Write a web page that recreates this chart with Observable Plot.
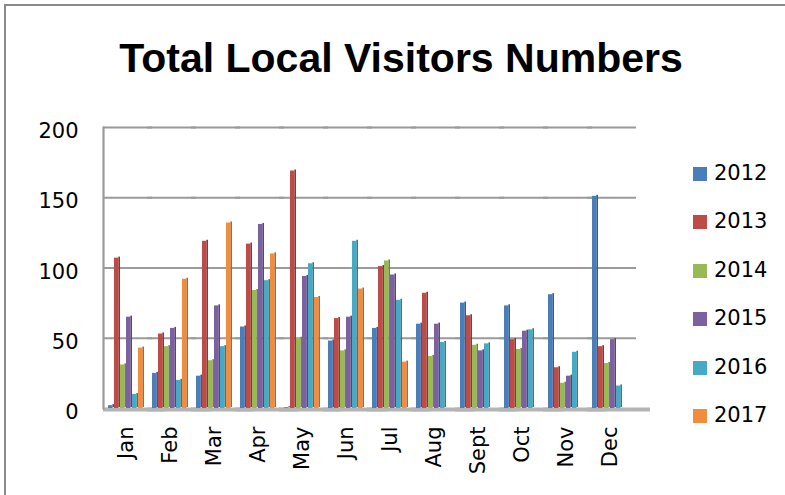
<!DOCTYPE html>
<html><head><meta charset="utf-8">
<script src="https://cdn.jsdelivr.net/npm/d3@7"></script>
<script src="https://cdn.jsdelivr.net/npm/@observablehq/plot@0.6"></script>
<style>
body{margin:0;background:#fff;}
#wrap{position:relative;width:785px;height:495px;overflow:hidden;background:#fff;}
#border{position:absolute;left:4px;top:4px;width:800px;height:520px;border-left:2px solid #8a8a8a;border-top:2px solid #8a8a8a;}
#title{position:absolute;left:0;top:38px;width:802px;text-align:center;font:bold 41px/41px "Liberation Sans",sans-serif;color:#000;white-space:nowrap;}
#chart{position:absolute;left:0;top:0;}
.lg{position:absolute;left:693px;height:21px;font:21px/21px "DejaVu Sans",sans-serif;color:#000;white-space:nowrap;}
.lg span.sw{position:absolute;left:0;top:4px;width:14px;height:14px;}
.lg span.tx{position:absolute;left:21px;top:0;}
</style></head>
<body>
<div id="wrap">
  <div id="chart"></div>
  <div id="border"></div>
  <div id="title">Total Local Visitors Numbers</div>
  <div id="legend"></div>
</div>
<script>
const months = ["Jan","Feb","Mar","Apr","May","Jun","Jul","Aug","Sept","Oct","Nov","Dec"];
const years = ["2012","2013","2014","2015","2016","2017"];
const v2012 = [2, 25, 23, 58, 0.5, 48, 57, 60, 75, 73, 81, 151];
const v2013 = [107, 53, 119, 117, 169, 64, 101, 82, 66, 49, 29, 44];
const v2014 = [31, 44, 34, 84, 50, 41, 105, 37, 45, 42, 18, 32];
const v2015 = [65, 57, 73, 131, 94, 65, 95, 60, 41, 55, 23, 49];
const v2016 = [10, 20, 44, 91, 103, 119, 77, 47, 46, 56, 40, 16];
const v2017 = [43, 92, 132, 110, 79, 85, 33, 0, 0, 0, 0, 0];
const yTicks = [0, 50, 100, 150, 200];
const colors = ["#4A7EBB", "#BE4B48", "#98B954", "#7D60A0", "#46AAC5", "#F38D3E"];

const series = [v2012, v2013, v2014, v2015, v2016, v2017];
const data = [];
years.forEach((yr, i) => months.forEach((m, j) => data.push({month: m, year: yr, value: series[i][j]})));

const chart = Plot.plot({
  width: 785, height: 495,
  marginLeft: 104, marginRight: 154, marginTop: 127, marginBottom: 87,
  style: {fontFamily: "DejaVu Sans", fontSize: "21px", background: "transparent", color: "#000", overflow: "visible"},
  fx: {domain: months, paddingInner: 0.16, paddingOuter: 0.057, label: null},
  x: {domain: years, padding: 0, axis: null},
  y: {domain: [0, 200], axis: null},
  color: {domain: years, range: colors},
  marks: [
    Plot.ruleY(yTicks.slice(1), {stroke: "#9a9a9a", strokeWidth: 2.2, insetLeft: -4, insetRight: -8}),
    Plot.ruleY([0], {stroke: "#b4b4b4", strokeWidth: 4, insetLeft: -4, insetRight: -22, dy: 1}),
    Plot.frame({anchor: "left", stroke: "#9a9a9a", strokeWidth: 2.2, facetAnchor: "left", dx: -4}),
    Plot.barY(data, {fx: "month", x: "year", y: "value", fill: "year", insetLeft: 4.4, dy: -1}),
    Plot.barY(data, {fx: "month", x: "year", y: "value", fill: "black", fillOpacity: 0.28, insetLeft: 4.4, dy: -1}),
    Plot.barY(data, {fx: "month", x: "year", y: "value", fill: "year", insetRight: 1.6}),
    Plot.axisY(yTicks, {tickSize: 0, tickPadding: 29, fontSize: 21, dy: 4, label: null}),
    Plot.axisFx({anchor: "bottom", tickRotate: -90, tickSize: 0, tickPadding: 18, fontSize: 21, label: null})
  ]
});
document.getElementById("chart").appendChild(chart);

const legend = document.getElementById("legend");
years.forEach((yr, i) => {
  const row = document.createElement("div");
  row.className = "lg";
  row.style.top = (163 + i * 48.4) + "px";
  const sw = document.createElement("span");
  sw.className = "sw";
  sw.style.background = colors[i];
  const tx = document.createElement("span");
  tx.className = "tx";
  tx.textContent = yr;
  row.appendChild(sw); row.appendChild(tx);
  legend.appendChild(row);
});
</script>
</body></html>
